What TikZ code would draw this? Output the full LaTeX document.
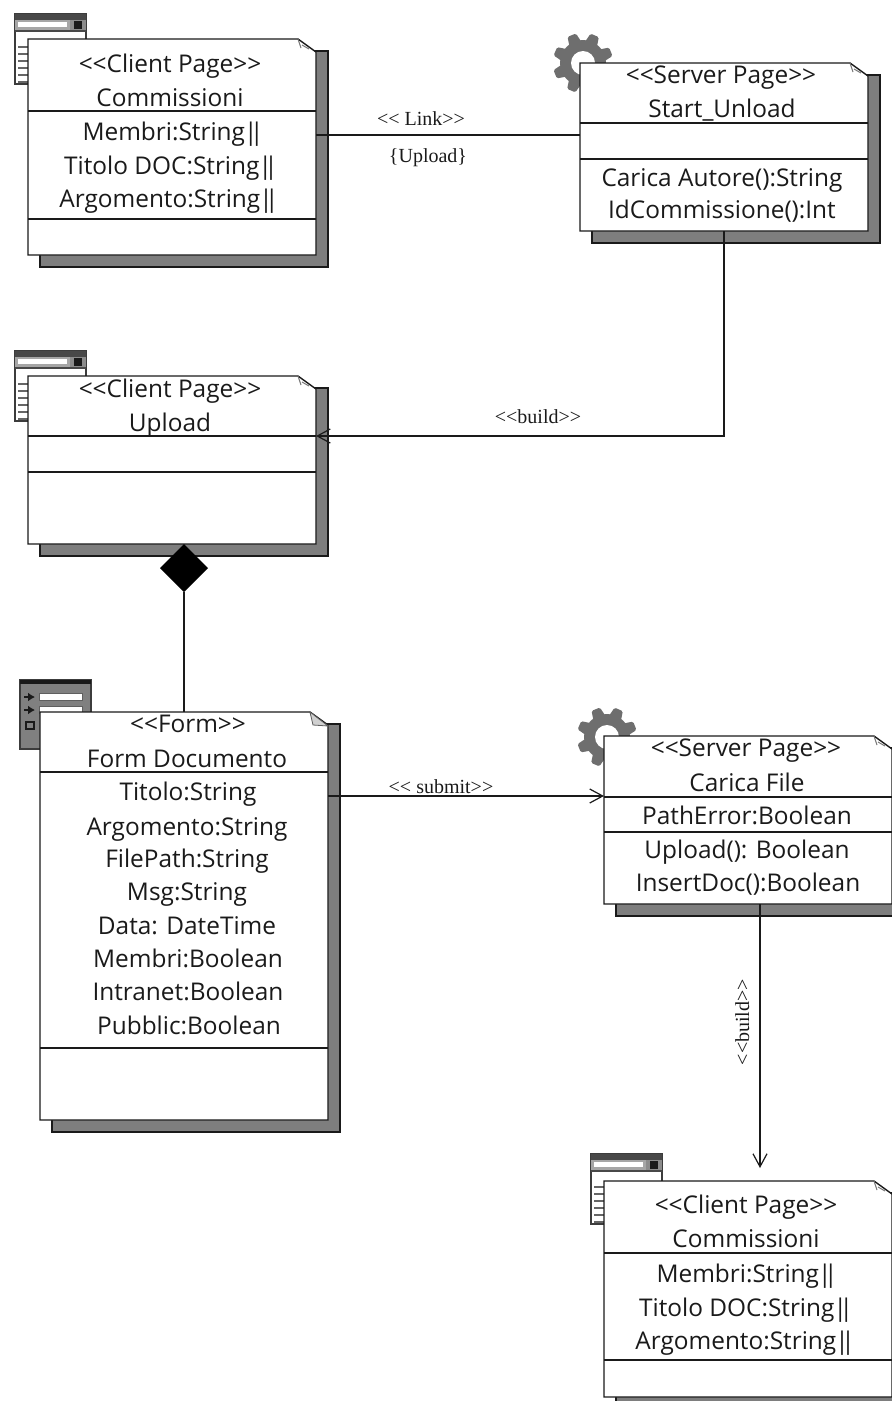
\documentclass[tikz,border=0pt]{standalone}
\usepackage{fontspec}
\usetikzlibrary{arrows.meta,shapes.geometric}
\newfontfamily\umlfont{Open Sans}
\newfontfamily\tagfont{Liberation Serif}
\definecolor{shadowgrey}{HTML}{7E7E7E}
\definecolor{geargrey}{HTML}{6E6E6E}
\definecolor{inkc}{HTML}{1A1A1A}
\definecolor{foldc}{HTML}{D0D0D0}
\newcommand{\barsym}{\kern-1pt|\kern-7.5pt|}
\tikzset{
  boxline/.style={draw=inkc,line width=1.4pt},
  boxbody/.style={inner sep=0pt,outer sep=0pt},
  txt/.style={anchor=base,inner sep=0pt,font=\umlfont\fontsize{24.4}{28}\selectfont,text=inkc},
  tag/.style={anchor=base,inner sep=0pt,font=\tagfont\fontsize{20}{22}\selectfont,text=inkc},
  conn/.style={draw=inkc,line width=1.3pt},
  openarrow/.style={-{Straight Barb[length=13pt,width=14pt,line width=1.2pt]}},
  compo/.style={diamond,fill=black,inner sep=0pt,outer sep=0pt,minimum width=48pt,minimum height=48pt},
}
% #1 name, #2 x, #3 y, #4 w, #5 h, #6 first divider, #7 second divider
\newcommand{\umlbox}[7]{%
  \begin{scope}[shift={(#2,#3)}]
    \fill[shadowgrey,boxline] (12,12) rectangle (#4+12,#5+12);
    \node[boxbody,minimum width=#4pt,minimum height=#5pt] (#1) at (#4/2,#5/2) {};
    \filldraw[fill=white,boxline] (0,0) -- (#4-18,0) -- (#4,13) -- (#4,#5) -- (0,#5) -- cycle;
    \draw[inkc!60,line width=1pt] (#4-18,0) -- (#4-15,9) (#4-14,6) -- (#4-7,10);
    \draw[boxline] (0,#6) -- (#4,#6);
    \draw[boxline] (0,#7) -- (#4,#7);
  \end{scope}}
\newcommand{\clienticon}[2]{%
  \begin{scope}[shift={(#1,#2)}]
    \filldraw[fill=white,draw=inkc!85,line width=1.4pt] (0,0) rectangle (71,70);
    \fill[inkc!80] (0,0) rectangle (71,6);
    \fill[black!35] (0,6) rectangle (71,17);
    \fill[white] (3,8) rectangle (52,13);
    \fill[black!45] (55,6) rectangle (71,17);
    \fill[inkc] (59,7) rectangle (67,15);
    \draw[inkc!80,line width=1.4pt] (0,17) -- (71,17);
    \foreach \yy in {33,40,47,54,61,68}{\draw[black!60,line width=1.3pt] (3,\yy) -- (14,\yy);}
  \end{scope}}
\newcommand{\formicon}[2]{%
  \begin{scope}[shift={(#1,#2)}]
    \filldraw[fill=black!50,draw=inkc!85,line width=1.4pt] (0,0) rectangle (71,69);
    \fill[inkc] (0,0) rectangle (71,4);
    \filldraw[fill=white,draw=inkc!70,line width=1pt] (19,13) rectangle (62,20);
    \filldraw[fill=white,draw=inkc!70,line width=1pt] (19,26) rectangle (62,33);
    \draw[-{Latex[length=7pt,width=9pt]},inkc,line width=1.6pt] (4,17) -- (15,17);
    \draw[-{Latex[length=7pt,width=9pt]},inkc,line width=1.6pt] (4,30) -- (15,30);
    \draw[inkc,line width=1.3pt] (6,42) rectangle (14,49);
  \end{scope}}
\newcommand{\gearicon}[2]{%
  \begin{scope}[shift={(#1,#2)}]
    \fill[geargrey] (0,0) circle (23);
    \foreach \aa in {0,45,...,315}{\fill[geargrey,rotate=\aa+22,rounded corners=1.5pt] (-6.5,-20) -- (-4.5,-30) -- (4.5,-30) -- (6.5,-20) -- cycle;}
    \fill[white] (0,0) circle (12);
  \end{scope}}
\begin{document}
\begin{tikzpicture}[x=1pt,y=-1pt]
\useasboundingbox (0,0) rectangle (892,1401);
\clip (0,0) rectangle (892,1401);
\clienticon{15}{14}
\clienticon{15}{351}
\clienticon{591}{1154}
\formicon{20}{680}
\gearicon{583}{63}
\gearicon{607}{737}
\umlbox{cpa}{28}{39}{288}{216}{72}{180}
\umlbox{spa}{580}{63}{288}{168}{60}{96}
\umlbox{cpb}{28}{376}{288}{168}{60}{96}
\umlbox{frm}{40}{712}{288}{408}{60}{336}
\umlbox{spb}{604}{736}{288}{168}{61}{96}
\umlbox{cpc}{604}{1181}{288}{216}{72}{179}
\filldraw[fill=foldc,draw=inkc!70,line width=0.8pt] (310,712) -- (313,725) -- (328,726) -- cycle;
% texts
\node[txt] (t1) at (170,72) {<<Client Page>>};
\node[txt] (t2) at (170,106) {Commissioni};
\node[txt] (t3) at (173,140) {Membri:String\barsym};
\node[txt] (t4) at (171,174) {Titolo DOC:String\barsym};
\node[txt] (t5) at (169,207) {Argomento:String\barsym};
\node[txt] (t6) at (721,83) {<<Server Page>>};
\node[txt] (t7) at (722,117) {Start\_Unload};
\node[txt] (t8) at (722,186) {Carica Autore():String};
\node[txt] (t9) at (722,218) {IdCommissione():Int};
\node[txt] (t10) at (170,397) {<<Client Page>>};
\node[txt] (t11) at (170,431) {Upload};
\node[txt] (t12) at (188,732) {<<Form>>};
\node[txt] (t13) at (187,767) {Form Documento};
\node[txt] (t14) at (188,800) {Titolo:String};
\node[txt] (t15) at (187,835) {Argomento:String};
\node[txt] (t16) at (187,867) {FilePath:String};
\node[txt] (t17) at (187,900) {Msg:String};
\node[txt] (t18) at (187,934) {Data: DateTime};
\node[txt] (t19) at (188,967) {Membri:Boolean};
\node[txt] (t20) at (188,1000) {Intranet:Boolean};
\node[txt] (t21) at (189,1034) {Pubblic:Boolean};
\node[txt] (t22) at (746,756) {<<Server Page>>};
\node[txt] (t23) at (747,791) {Carica File};
\node[txt] (t24) at (747,824) {PathError:Boolean};
\node[txt] (t25) at (747,858) {Upload(): Boolean};
\node[txt] (t26) at (748,891) {InsertDoc():Boolean};
\node[txt] (t27) at (746,1213) {<<Client Page>>};
\node[txt] (t28) at (746,1247) {Commissioni};
\node[txt] (t29) at (747,1282) {Membri:String\barsym};
\node[txt] (t30) at (746,1316) {Titolo DOC:String\barsym};
\node[txt] (t31) at (745,1349) {Argomento:String\barsym};
% connectors
\coordinate (p1) at (0,135);
\coordinate (p2) at (724,436);
\coordinate (p3) at (0,796);
\coordinate (p4) at (760,1168);
\node[compo] (dia) at (184,568) {};
\draw[conn] (cpa.east |- p1) -- (spa.west |- p1);
\draw[conn,openarrow] (spa.south -| p2) -- (p2) -- (cpb.east |- p2);
\draw[conn] (dia.south) -- (frm.north -| dia.south);
\draw[conn,openarrow] (frm.east |- p3) -- (spb.west |- p3);
\draw[conn,openarrow] (spb.south -| p4) -- (p4);
% connector labels
\node[tag] (l1) at (421,125) {<< Link>>};
\node[tag] (l2) at (428,162) {\{Upload\}};
\node[tag] (l3) at (538,423) {<<build>>};
\node[tag] (l4) at (441,793) {<< submit>>};
\node[tag,rotate=90] (l5) at (749,1022) {<<build>>};
\end{tikzpicture}
\end{document}
